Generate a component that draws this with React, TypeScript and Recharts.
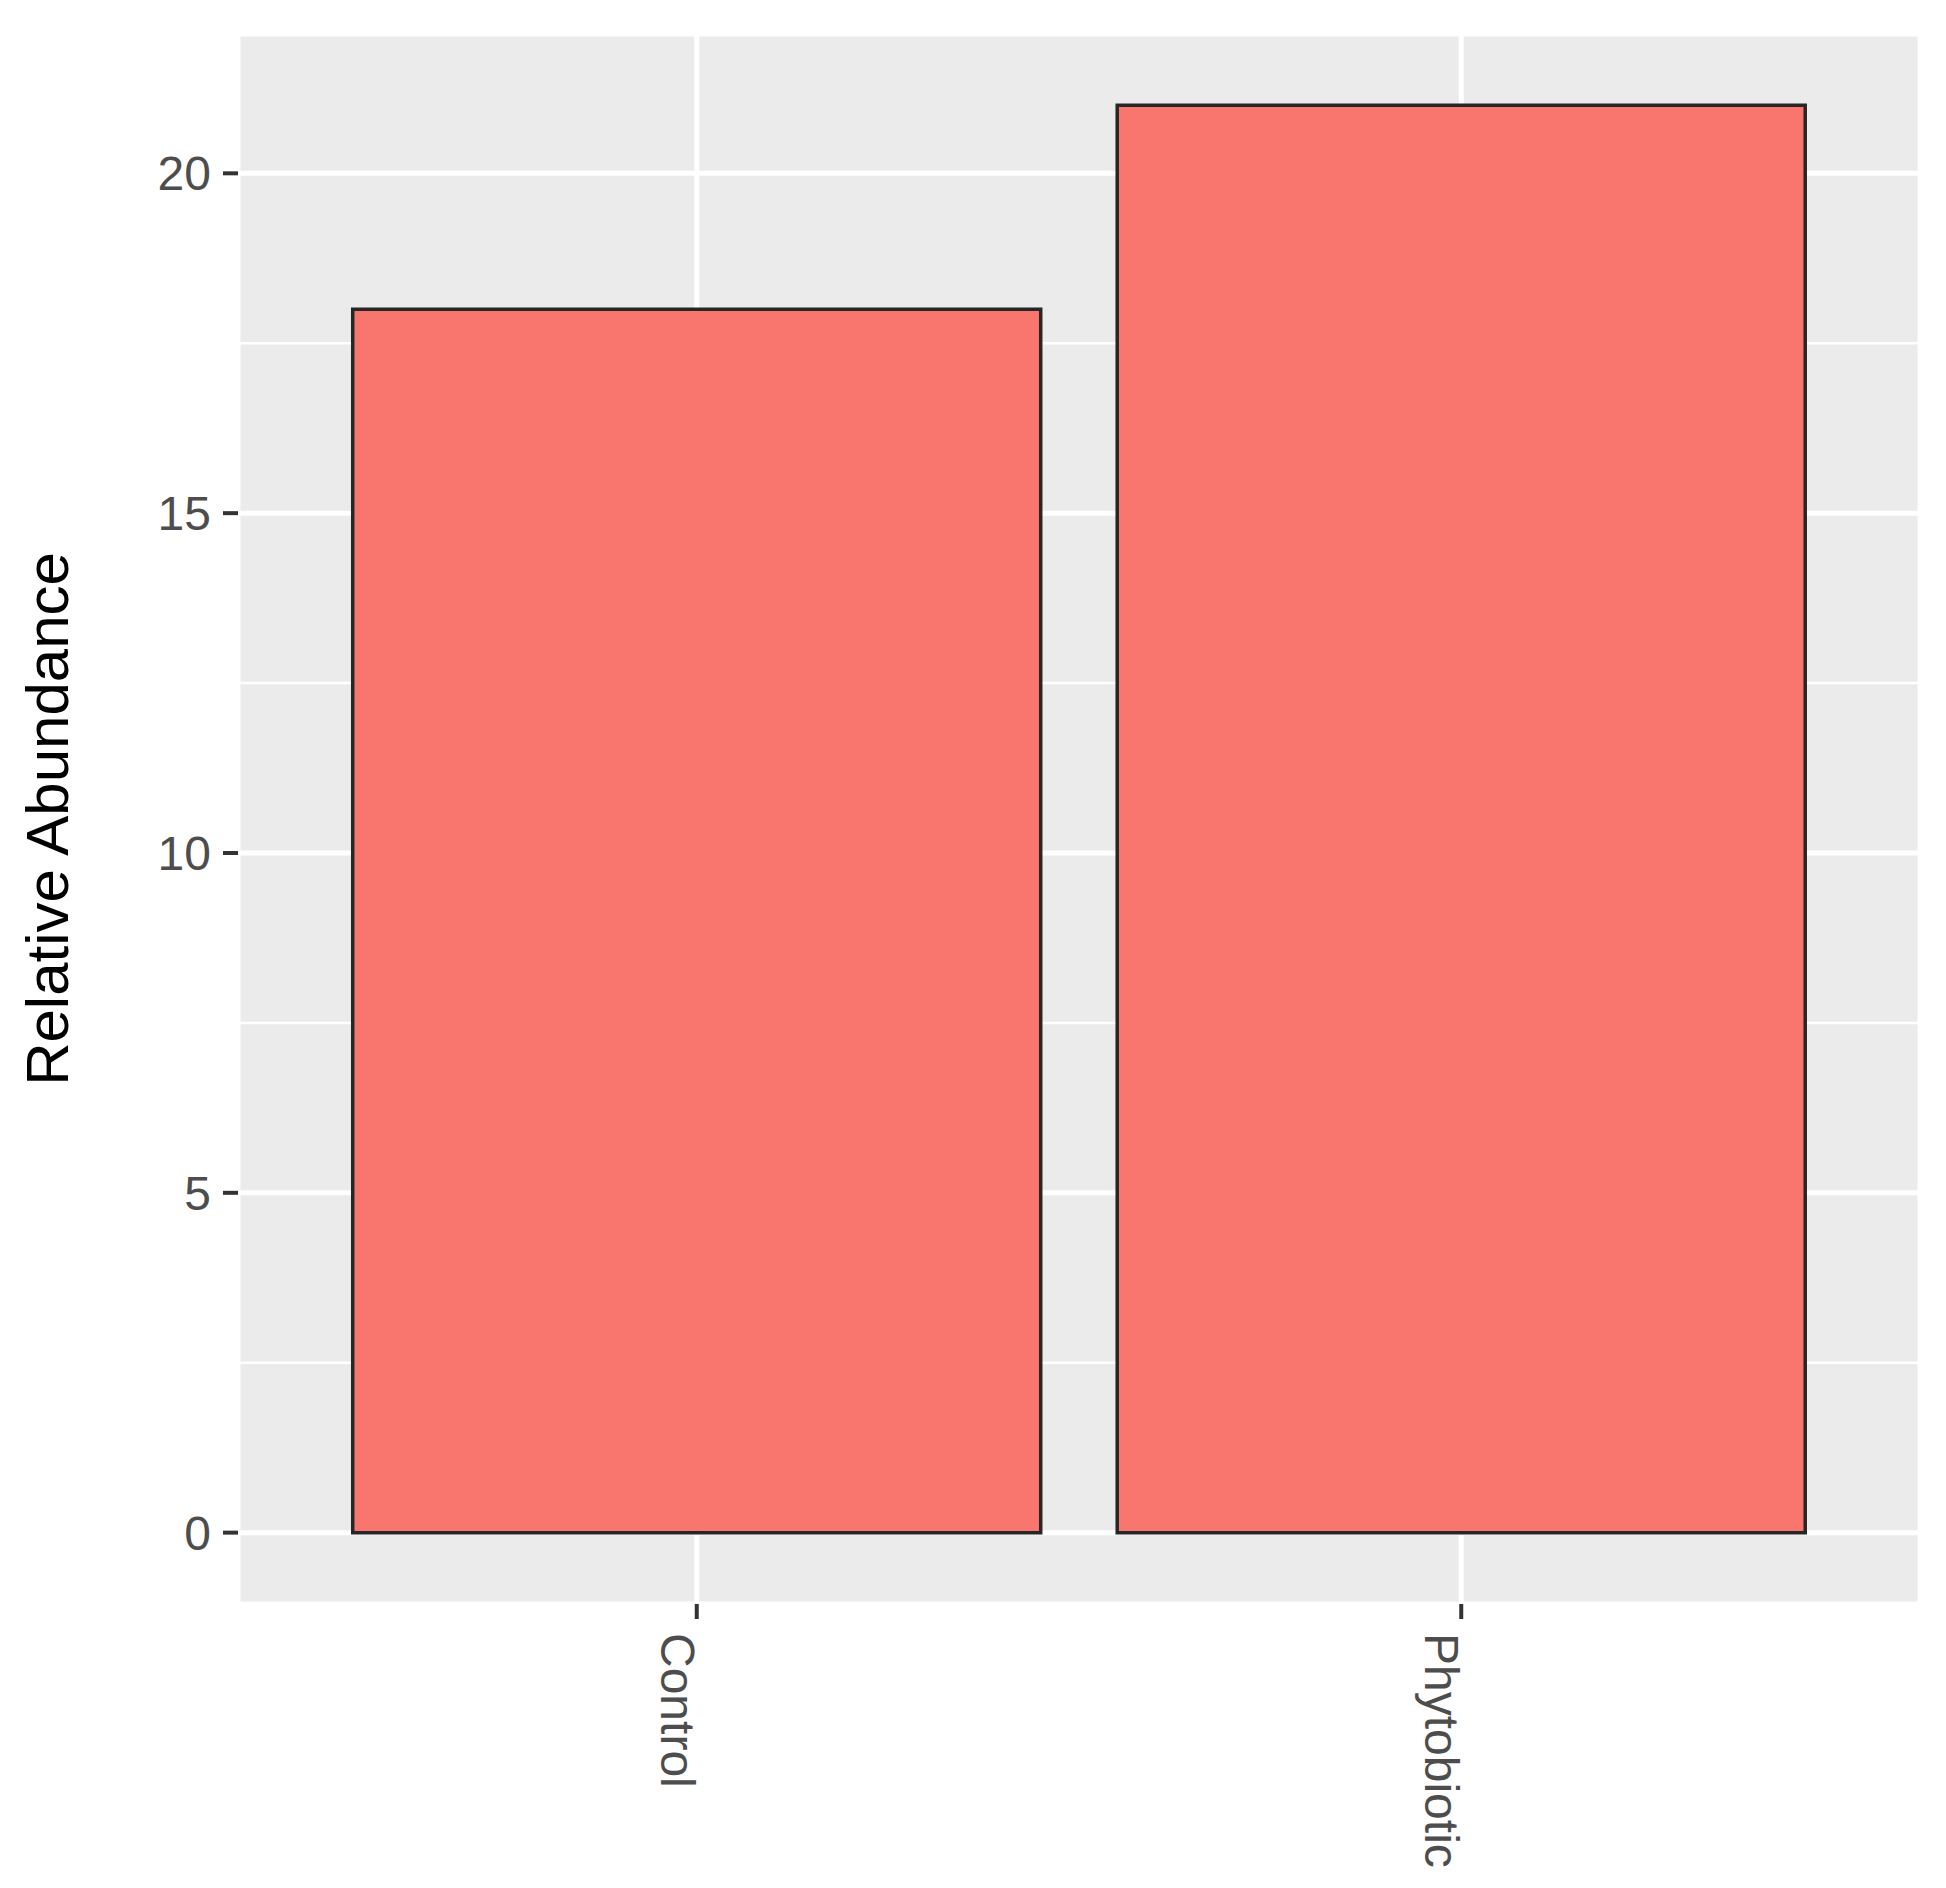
import React from 'react';
import { BarChart, Bar, XAxis, YAxis, CartesianGrid } from 'recharts';

const categories = ['Control', 'Phytobiotic'];
const abundance = [18, 21];
const yTicks = [0, 5, 10, 15, 20];
const yMinorTicks = [2.5, 7.5, 12.5, 17.5];
const yDomain = [-1.05, 22.05];
const yTitle = 'Relative Abundance';

const data = categories.map((c, i) => ({ group: c, value: abundance[i] }));

const FONT = '"Liberation Sans", Arial, Helvetica, sans-serif';

const XTick = (props: any) => {
  const { x, y, payload } = props;
  return (
    <text
      transform={`translate(${x - 36},${y}) rotate(90)`}
      textAnchor="start"
      fontSize={48}
      fontFamily={FONT}
      fill="#4d4d4d"
    >
      {payload.value}
    </text>
  );
};

const YTitle = (props: any) => {
  const vb = props.viewBox || {};
  const cy = (vb.y || 0) + (vb.height || 0) / 2;
  const cx = (vb.x || 0) + 68;
  return (
    <text
      transform={`translate(${cx},${cy}) rotate(-90)`}
      textAnchor="middle"
      fontSize={60}
      fontFamily={FONT}
      fill="#000"
    >
      {yTitle}
    </text>
  );
};

export default function App() {
  return (
    <div style={{ position: 'absolute', left: 0, top: 0, width: 1946, height: 1888, background: '#fff' }}>
      <BarChart
        width={1946}
        height={1888}
        data={data}
        margin={{ top: 34, right: 26, bottom: 0, left: 0 }}
        barCategoryGap="5%"
      >
        <CartesianGrid
          fill="#EBEBEB"
          stroke="#ffffff"
          strokeWidth={2.5}
          vertical={false}
          horizontalValues={yMinorTicks}
        />
        <CartesianGrid stroke="#ffffff" strokeWidth={5} />
        <XAxis
          dataKey="group"
          type="category"
          padding={{ left: 76.5, right: 76.5 }}
          height={284}
          axisLine={false}
          tickLine={{ stroke: '#333333', strokeWidth: 4 }}
          tickSize={15}
          tickMargin={14}
          tick={<XTick />}
          interval={0}
        />
        <YAxis
          type="number"
          domain={yDomain}
          ticks={yTicks}
          allowDataOverflow
          width={238}
          axisLine={false}
          tickLine={{ stroke: '#333333', strokeWidth: 4 }}
          tickSize={15}
          tickMargin={12}
          tick={{ fill: '#4d4d4d', fontSize: 48, fontFamily: FONT }}
          label={<YTitle />}
        />
        <Bar dataKey="value" fill="#F8766D" stroke="#262626" strokeWidth={3.5} isAnimationActive={false} />
      </BarChart>
    </div>
  );
}
